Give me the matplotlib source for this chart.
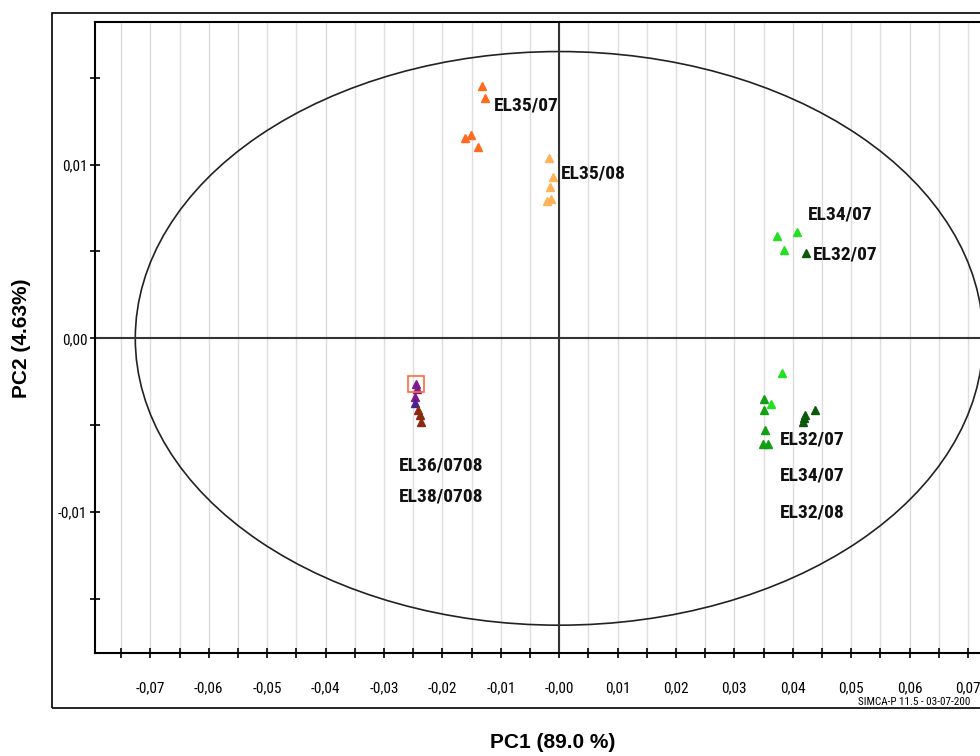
import matplotlib.pyplot as plt
import matplotlib.patches as patches
from matplotlib import font_manager
from matplotlib.ticker import MultipleLocator, FuncFormatter

# narrow font if the system has one, else Liberation Sans
installed = {f.name for f in font_manager.fontManager.ttflist}
narrow = 'Liberation Sans'
for cand in ['Liberation Sans Narrow', 'DejaVu Sans Condensed', 'Roboto Condensed']:
    if cand in installed:
        narrow = cand
        break
plt.rcParams['font.family'] = [narrow, 'DejaVu Sans']

# score values (PC1, PC2)
el35_07_x = [-0.0132, -0.0127, -0.0161, -0.0151, -0.0139]
el35_07_y = [0.0145, 0.0138, 0.0115, 0.0117, 0.0110]

el35_08_x = [-0.0018, -0.0010, -0.0015, -0.0021, -0.0014]
el35_08_y = [0.0104, 0.0093, 0.0087, 0.0079, 0.0080]

el34_07_x = [0.0373, 0.0407, 0.0385, 0.0381, 0.0363]
el34_07_y = [0.0059, 0.0061, 0.0051, -0.0020, -0.0038]

el32_07_x = [0.0422, 0.0438, 0.0421, 0.0418, 0.0420]
el32_07_y = [0.0049, -0.0041, -0.0044, -0.0048, -0.0046]

el32_08_x = [0.0351, 0.0350, 0.0352, 0.0349, 0.0358]
el32_08_y = [-0.0035, -0.0041, -0.0053, -0.0061, -0.0061]

el36_x = [-0.0245, -0.0244, -0.0247]
el36_y = [-0.0026, -0.0029, -0.0034]
el36b_x = [-0.0247]
el36b_y = [-0.0037]
el38_x = [-0.0241, -0.0238, -0.0237]
el38_y = [-0.0041, -0.0044, -0.0048]

# ellipse (Hotelling T2) half axes
ell_a = 0.0726
ell_b = 0.0165

fig = plt.figure(figsize=(9.8, 7.56), dpi=100)
ax = fig.add_axes([95 / 980, 103 / 756, 908 / 980, 631 / 756])
ax.set_xlim(-0.0795, 0.076)
ax.set_ylim(-0.0181, 0.0182)

# outer frame
fig.patches.append(patches.Rectangle((52 / 980, 48 / 756), 1.0, 695 / 756,
                                     transform=fig.transFigure, fill=False,
                                     edgecolor='black', lw=1.2))

ax.xaxis.set_major_locator(MultipleLocator(0.01))
ax.xaxis.set_minor_locator(MultipleLocator(0.005))
ax.yaxis.set_major_locator(MultipleLocator(0.01))
ax.yaxis.set_minor_locator(MultipleLocator(0.005))
ax.grid(axis='x', which='both', color='#dddddd', lw=1)
ax.set_axisbelow(True)


def fmt_x(v, pos):
    if abs(v) < 1e-9:
        return '-0,00'
    return f'{v:.2f}'.replace('.', ',')


def fmt_y(v, pos):
    if abs(v) < 1e-9:
        return '0,00'
    return f'{v:.2f}'.replace('.', ',')


ax.xaxis.set_major_formatter(FuncFormatter(fmt_x))
ax.yaxis.set_major_formatter(FuncFormatter(fmt_y))
ax.tick_params(which='both', direction='inout', length=7, width=1.2, labelsize=11)
ax.tick_params(axis='x', pad=17)
ax.tick_params(axis='y', pad=2)
for s in ax.spines.values():
    s.set_linewidth(1.5)

ax.axhline(0, color='#333333', lw=1.5)
ax.axvline(0, color='#333333', lw=1.5)
ax.add_patch(patches.Ellipse((0, 0), 2 * ell_a, 2 * ell_b, fill=False,
                             edgecolor='#222222', lw=1.2))

ms = 6
ax.plot(el35_07_x, el35_07_y, '^', color='#ff6a1f', ms=ms)
ax.plot(el35_08_x, el35_08_y, '^', color='#ffb257', ms=ms)
ax.plot(el34_07_x, el34_07_y, '^', color='#22e022', ms=ms)
ax.plot(el32_08_x, el32_08_y, '^', color='#12a012', ms=ms)
ax.plot(el32_07_x, el32_07_y, '^', color='#0b5a0b', ms=ms)
ax.plot(el36_x, el36_y, '^', color='#7d1a8c', ms=ms)
ax.plot(el36b_x, el36b_y, '^', color='#48208f', ms=ms)
ax.plot(el38_x, el38_y, '^', color='#8b2a0e', ms=ms)
ax.plot([el36_x[0]], [el36_y[0]], 's', mfc='none', mec='#ff6a3a', ms=11, mew=1.2)

lab = dict(fontsize=14, fontweight='bold', color='#111111', va='center')
ax.text(-0.0112, 0.0134, 'EL35/07', ha='left', **lab)
ax.text(0.0003, 0.0095, 'EL35/08', ha='left', **lab)
ax.text(0.0425, 0.0071, 'EL34/07', ha='left', **lab)
ax.text(0.0435, 0.0048, 'EL32/07', ha='left', **lab)
ax.text(0.0378, -0.0058, 'EL32/07', ha='left', **lab)
ax.text(0.0378, -0.0079, 'EL34/07', ha='left', **lab)
ax.text(0.0378, -0.0100, 'EL32/08', ha='left', **lab)
ax.text(-0.0202, -0.0073, 'EL36/0708', ha='center', **lab)
ax.text(-0.0202, -0.0091, 'EL38/0708', ha='center', **lab)

fig.text(858 / 980, 1 - 702 / 756, 'SIMCA-P 11.5 - 03-07-200', fontsize=8,
         va='center', ha='left')

fig.text(553 / 980, 1 - 742 / 756, 'PC1 (89.0 %)', fontsize=15, fontweight='bold',
         family='Liberation Sans', ha='center', va='center')
fig.text(22 / 980, 1 - 338 / 756, 'PC2 (4.63%)', fontsize=15, fontweight='bold',
         family='Liberation Sans', ha='center', va='center', rotation=90)

fig.savefig('out.png', dpi=100)
